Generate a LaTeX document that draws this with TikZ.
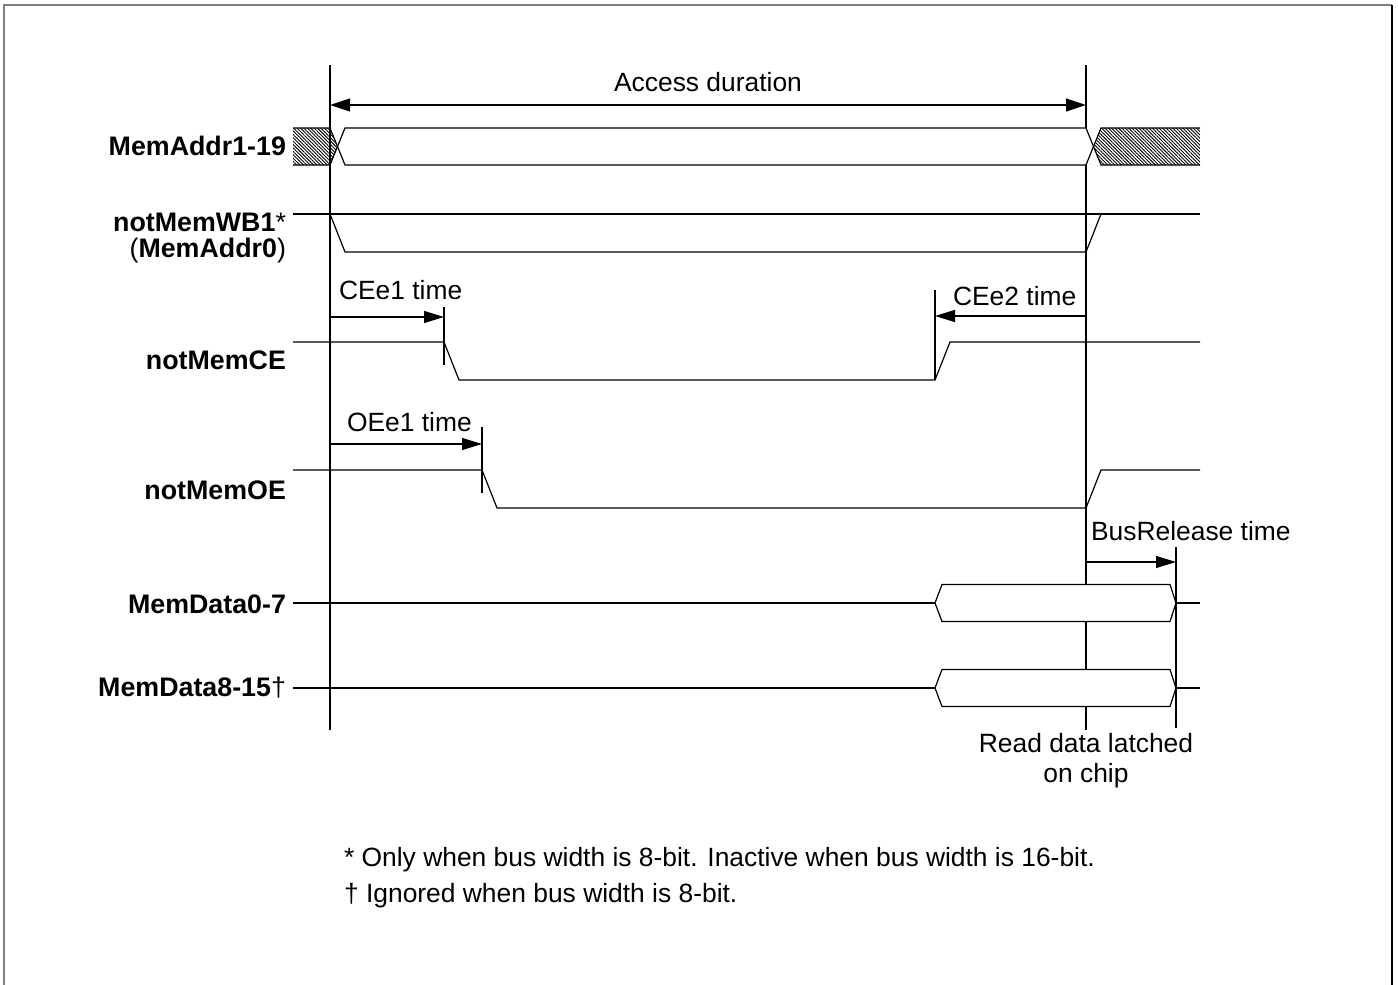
\documentclass[tikz,border=0pt]{standalone}
\usepackage{fontspec}
\setmainfont{Liberation Sans}
\usetikzlibrary{arrows.meta,patterns.meta}

\tikzset{
  sig/.style={line width=0.6pt},
  edgeline/.style={line width=1pt},
  timearrow/.style={line width=0.6pt,-{Triangle[length=10pt,width=6pt]}},
  hatch/.style={pattern={Lines[angle=-45,distance=1.2pt,line width=0.45pt]}},
  txt/.style={font=\fontsize{13.2}{15}\selectfont},
  lbl/.style={anchor=east,font=\fontsize{13.4}{13}\selectfont\bfseries},
}

\begin{document}
\begin{tikzpicture}[x=0.5pt,y=-0.5pt]
    \useasboundingbox (0,0) rectangle (1398,985);
    % frame
    \draw[gray,line width=1pt] (4,985) -- (4,5) -- (1392,5);
    \draw[line width=1pt] (1392,5) -- (1392,985);

    % start and end of access
    \draw[edgeline] (330,65) -- (330,730);
    \draw[edgeline] (1086,65) -- (1086,730);
    \draw[sig,{Triangle[length=10pt,width=6.5pt]}-{Triangle[length=10pt,width=6.5pt]}] (330,105) -- (1086,105);
    \node[txt] (access) at (708,82) {Access duration};

    % MemAddr1-19
    \fill[hatch] (293,128) -- (330,128) -- (337.5,146.5) -- (330,165) -- (293,165) -- cycle;
    \draw[sig] (293,128) -- (330,128) -- (337.5,146.5) -- (330,165) -- (293,165);
    \draw[sig,fill=white] (337.5,146.5) -- (345,128) -- (1086,128) -- (1093.5,146.5) -- (1086,165) -- (345,165) -- cycle;
    \fill[hatch] (1093.5,146.5) -- (1101,128) -- (1200,128) -- (1200,165) -- (1101,165) -- cycle;
    \draw[sig] (1200,128) -- (1101,128) -- (1093.5,146.5) -- (1101,165) -- (1200,165);

    % notMemWB1
    \draw[sig] (293,214) -- (1200,214);
    \draw[sig] (330,214) -- (345,252) -- (1086,252) -- (1101,214);

    % notMemCE
    \draw[sig] (293,342) -- (444,342) -- (459,380) -- (935,380) -- (950,342) -- (1200,342);
    \draw[edgeline] (444,307) -- (444,365);
    \draw[edgeline] (935,290) -- (935,380);
    \draw[timearrow] (330,317) -- (444,317);
    \draw[timearrow] (1086,316) -- (935,316);
    \node[txt,anchor=west] (ce1) at (332,290) {CEe1 time};
    \node[txt,anchor=west] (ce2) at (946,296) {CEe2 time};

    % notMemOE
    \draw[sig] (293,470) -- (482,470) -- (497,508) -- (1086,508) -- (1101,470) -- (1200,470);
    \draw[edgeline] (482,427) -- (482,493);
    \draw[timearrow] (330,444) -- (482,444);
    \node[txt,anchor=west] (oe1) at (340,422) {OEe1 time};

    % MemData buses
    \foreach \y in {603,688}
    {
    \draw[sig] (293,\y) -- (935,\y);
    \draw[sig] (1176,\y) -- (1200,\y);
    \draw[sig,fill=white] (935,\y) -- (942,\y-18.5) -- (1170,\y-18.5) -- (1176,\y) -- (1170,\y+18.5) -- (942,\y+18.5) -- cycle;
    }
    \draw[edgeline] (1176,547) -- (1176,728);
    \draw[timearrow] (1086,562) -- (1176,562);
    \node[txt,anchor=west] (rel) at (1084,531) {BusRelease time};
    \node[txt,align=center] (latch) at (1086,761) {Read data latched\\on chip};

    % signal names
    \node[lbl] (addr) at (293,146) {MemAddr1-19};
    \node[lbl,align=right] (wb) at (293,238) {notMemWB1\textmd{*}\\\textmd{(}MemAddr0\textmd{)}};
    \node[lbl] (ce) at (293,360) {notMemCE};
    \node[lbl] (oe) at (293,490) {notMemOE};
    \node[lbl] (dlo) at (293,604) {MemData0-7};
    \node[lbl] (dhi) at (293,688) {MemData8-15\textmd{\textdagger}};

    % footnotes
    \node[txt,anchor=west] (fn1) at (337,860) {* Only when bus width is 8-bit. Inactive when bus width is 16-bit.};
    \node[txt,anchor=west] (fn2) at (337,896) {\textdagger{} Ignored when bus width is 8-bit.};
\end{tikzpicture}
\end{document}
